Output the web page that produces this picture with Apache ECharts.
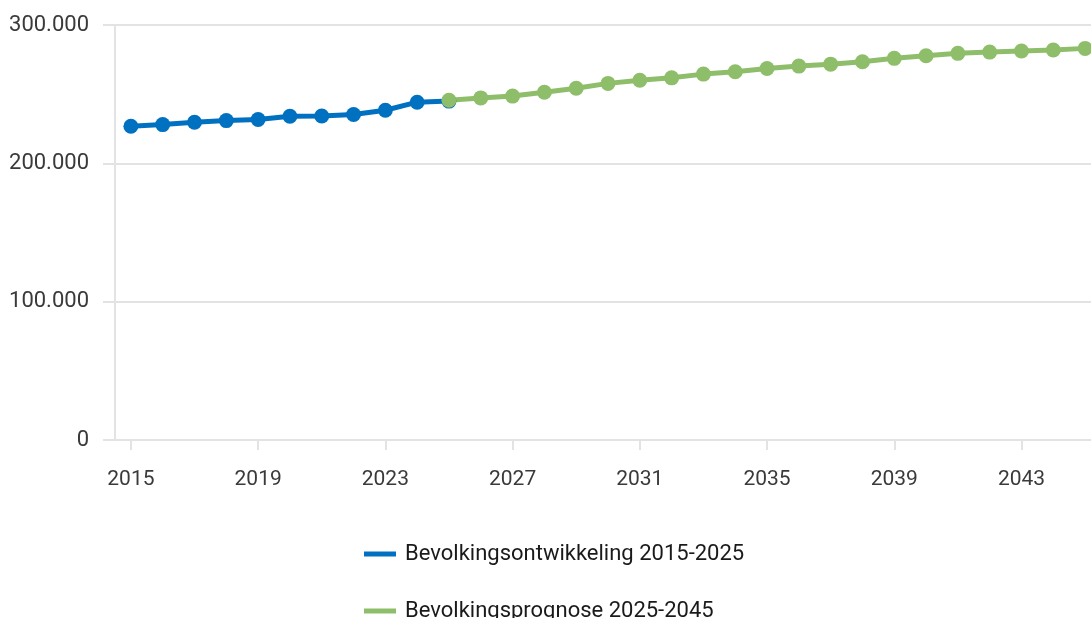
<!DOCTYPE html>
<html>
<head>
<meta charset="utf-8">
<script src="https://cdn.jsdelivr.net/npm/echarts@6/dist/echarts.min.js"></script>
<style>
html,body{margin:0;padding:0;background:#fff;}
#chart{width:1091px;height:618px;}
</style>
</head>
<body>
<div id="chart"></div>
<script>
const years = ['2015','2016','2017','2018','2019','2020','2021','2022','2023','2024','2025','2026','2027','2028','2029','2030','2031','2032','2033','2034','2035','2036','2037','2038','2039','2040','2041','2042','2043','2044','2045'];
const historyName = 'Bevolkingsontwikkeling 2015-2025';
const forecastName = 'Bevolkingsprognose 2025-2045';
const historyValues = [226800, 228000, 229700, 230900, 231700, 234000, 234200, 235300, 238400, 244200, 245000];
const forecastValues = [245600, 247300, 248600, 251400, 254300, 257800, 260100, 261800, 264500, 266200, 268600, 270300, 271700, 273400, 275900, 277800, 279500, 280400, 281200, 281900, 283100];
const yTicks = [0, 100000, 200000, 300000];

const historySeries = years.map((y, i) => i < historyValues.length ? historyValues[i] : null);
const forecastStart = years.indexOf('2025');
const forecastSeries = years.map((y, i) => i >= forecastStart ? forecastValues[i - forecastStart] : null);

function fmt(v){ return String(v).replace(/\B(?=(\d{3})+(?!\d))/g, '.'); }

const chart = echarts.init(document.getElementById('chart'), null, {renderer: 'canvas'});
chart.setOption({
  animation: false,
  textStyle: {fontFamily: 'Roboto'},
  grid: {left: 115, top: 25, width: 986, bottom: 178, containLabel: false, outerBoundsMode: 'none'},
  xAxis: {
    type: 'category',
    data: years,
    boundaryGap: true,
    axisLine: {show: true, lineStyle: {color: '#e3e3e3', width: 2}},
    axisTick: {show: true, alignWithLabel: true, interval: 3, length: 10, lineStyle: {color: '#e3e3e3', width: 2}},
    axisLabel: {interval: 3, margin: 29, fontSize: 21, color: '#3a3a3a', fontFamily: 'Roboto'},
    splitLine: {show: false}
  },
  yAxis: {
    type: 'value',
    min: yTicks[0],
    max: yTicks[yTicks.length - 1],
    interval: yTicks[1] - yTicks[0],
    axisLine: {show: true, lineStyle: {color: '#e3e3e3', width: 2}},
    axisTick: {show: true, length: 12, lineStyle: {color: '#e3e3e3', width: 2}},
    axisLabel: {margin: 26, fontSize: 22, color: '#3a3a3a', fontFamily: 'Roboto', formatter: fmt},
    splitLine: {show: true, lineStyle: {color: '#e3e3e3', width: 2}}
  },
  legend: {
    orient: 'vertical',
    left: 359,
    top: 538,
    height: 150,
    itemWidth: 32,
    itemHeight: 5,
    itemGap: 35,
    icon: 'rect',
    textStyle: {fontSize: 22, color: '#1a1a1a', fontFamily: 'Roboto', padding: [0, 0, 0, 4]},
    data: [historyName, forecastName]
  },
  series: [
    {
      name: historyName,
      type: 'line',
      data: historySeries,
      symbol: 'circle',
      symbolSize: 15,
      color: '#0070c0',
      lineStyle: {width: 5, color: '#0070c0'},
      itemStyle: {color: '#0070c0'},
      connectNulls: false
    },
    {
      name: forecastName,
      type: 'line',
      data: forecastSeries,
      symbol: 'circle',
      symbolSize: 15,
      color: '#8fbe6b',
      lineStyle: {width: 5, color: '#8fbe6b'},
      itemStyle: {color: '#8fbe6b'},
      connectNulls: false
    }
  ]
});
</script>
</body>
</html>
